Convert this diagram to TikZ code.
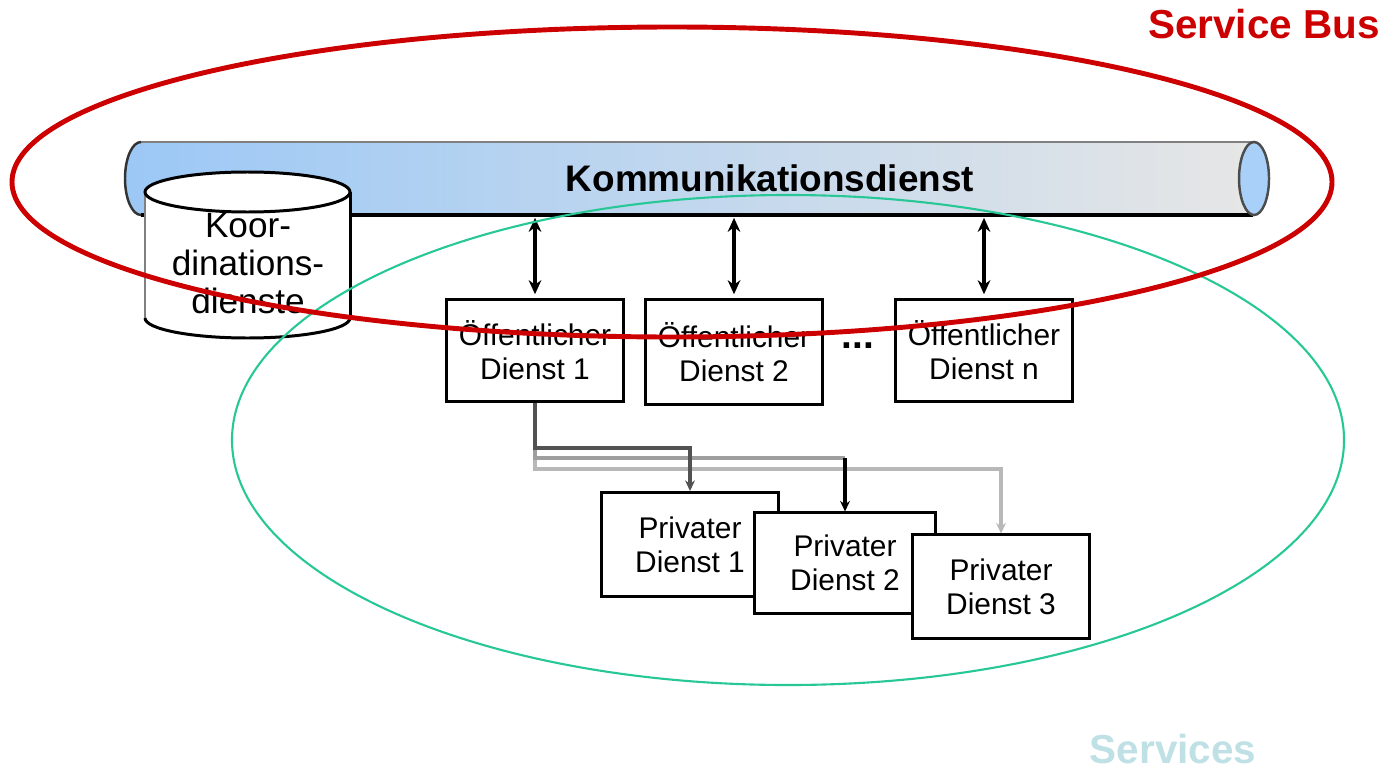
\documentclass[tikz,border=0pt]{standalone}
\usepackage{fontspec}
\setmainfont{Liberation Sans}
\usepackage{tikz}
\usetikzlibrary{arrows.meta,positioning}

\definecolor{BusRed}{RGB}{204,0,0}
\definecolor{SvcGreen}{RGB}{40,200,150}
\definecolor{SvcText}{RGB}{191,224,228}
\definecolor{PipeBlue}{RGB}{156,200,246}
\definecolor{PipeGray}{RGB}{230,230,230}
\definecolor{PipeEnd}{RGB}{168,208,248}

\begin{document}
\begin{tikzpicture}[x=0.01cm, y=-0.01cm]
			\tikzstyle{Dienst}	= [rectangle, draw, fill=white, line width=0.85pt, inner sep=0pt, align=center, font=\fontsize{8.5}{9.7}\selectfont]
			\tikzstyle{Oeff}	= [Dienst, minimum width=1.76cm, minimum height=1.01cm]
			\tikzstyle{Priv}	= [Dienst, minimum width=1.77cm, minimum height=1.04cm]
			\tikzstyle{Duplex}	= [{Stealth[length=4pt,width=3.6pt]}-{Stealth[length=4pt,width=3.6pt]}, shorten >=0.8pt, shorten <=1.2pt]
			\tikzstyle{Fork}	= [-{Stealth[length=3pt,width=2.8pt]}, line width=0.9pt]
			\tikzstyle{Title}	= [font=\fontsize{11.5}{13}\selectfont\bfseries, inner sep=0pt]

			\useasboundingbox (0,0) rectangle (1386,767);

			% Kommunikationsdienst pipe
			\shade [left color=PipeBlue, right color=PipeGray] (141,142) -- (1253,142) -- (1253,215) -- (141,215) arc[start angle=90, end angle=270, x radius=16, y radius=36.5] -- cycle;
			\draw [gray, line width=0.8pt] (141,142) -- (1253,142);
			\draw [line width=0.9pt] (141,215) -- (1253,215);
			\draw [black!80, line width=0.7pt] (141,215) arc[start angle=90, end angle=270, x radius=16, y radius=36.5];
			\filldraw [fill=PipeEnd, draw=black!70, line width=0.7pt] (1254,178.5) ellipse [x radius=15, y radius=36.5];
			\node (komm) at (770,178) [font=\fontsize{10.5}{12}\selectfont\bfseries] {Kommunikationsdienst};
			\coordinate (pipebase) at (0,215);

			% Koordinationsdienste cylinder
			\fill [white] (145,192) -- (145,318) arc[start angle=180, end angle=0, x radius=102.5, y radius=20] -- (350,192) -- cycle;
			\draw [gray, line width=0.85pt] (145,192) -- (145,318);
			\draw [line width=0.85pt] (350,192) -- (350,318);
			\draw [line width=0.85pt] (145,318) arc[start angle=180, end angle=0, x radius=102.5, y radius=20];
			\filldraw [fill=white, line width=0.85pt] (247.5,192) ellipse [x radius=102.5, y radius=20];
			\node (koord) at (248,264) [align=center, font=\fontsize{10}{10.8}\selectfont] {Koor-\\dinations-\\dienste};

			% public services
			\node (oeff1) at (535,350.5) [Oeff] {Öffentlicher\\Dienst 1};
			\node (oeff2) at (734,352) [Oeff, minimum height=1.04cm] {Öffentlicher\\Dienst 2};
			\node (oeffn) at (984,350.5) [Oeff] {Öffentlicher\\Dienst n};
			\node (dots) at (858,346) [font=\fontsize{11}{12}\selectfont\bfseries] {...};

			\draw [Duplex, line width=1.3pt] (oeff1.north) to (oeff1 |- pipebase);
			\draw [Duplex, line width=0.9pt] (oeff2.north) to (oeff2 |- pipebase);
			\draw [Duplex, line width=0.9pt] (oeffn.north) to (oeffn |- pipebase);

			% private services
			\node (priv1) at (690,544.5) [Priv] {Privater\\Dienst 1};
			\node (priv2) at (845,563) [Priv, minimum width=1.8cm, minimum height=1cm] {Privater\\Dienst 2};
			\node (priv3) at (1001,586.5) [Priv, minimum height=1.03cm] {Privater\\Dienst 3};

			\draw [Fork, black!28] (oeff1.south) -- (oeff1 |- 0,469) -| (priv3.north);
			\draw [black!38, line width=0.9pt] (oeff1.south) -- (oeff1 |- 0,458) -- (priv2.north |- 0,458);
			\draw [Fork] (priv2.north |- 0,458) -- (priv2.north);
			\draw [Fork, black!68] (oeff1.south) -- (oeff1 |- 0,448) -| (priv1.north);

			% Services and Service Bus
			\draw [SvcGreen, line width=0.6pt] (788,440) ellipse [x radius=556, y radius=245];
			\draw [BusRed, line width=1.4pt] (672,182) ellipse [x radius=660, y radius=155];
			\node (busLabel) at (1264,24) [Title, text=BusRed] {Service Bus};
			\node (svcLabel) at (1173,749) [Title, text=SvcText] {Services};
		\end{tikzpicture}
\end{document}
